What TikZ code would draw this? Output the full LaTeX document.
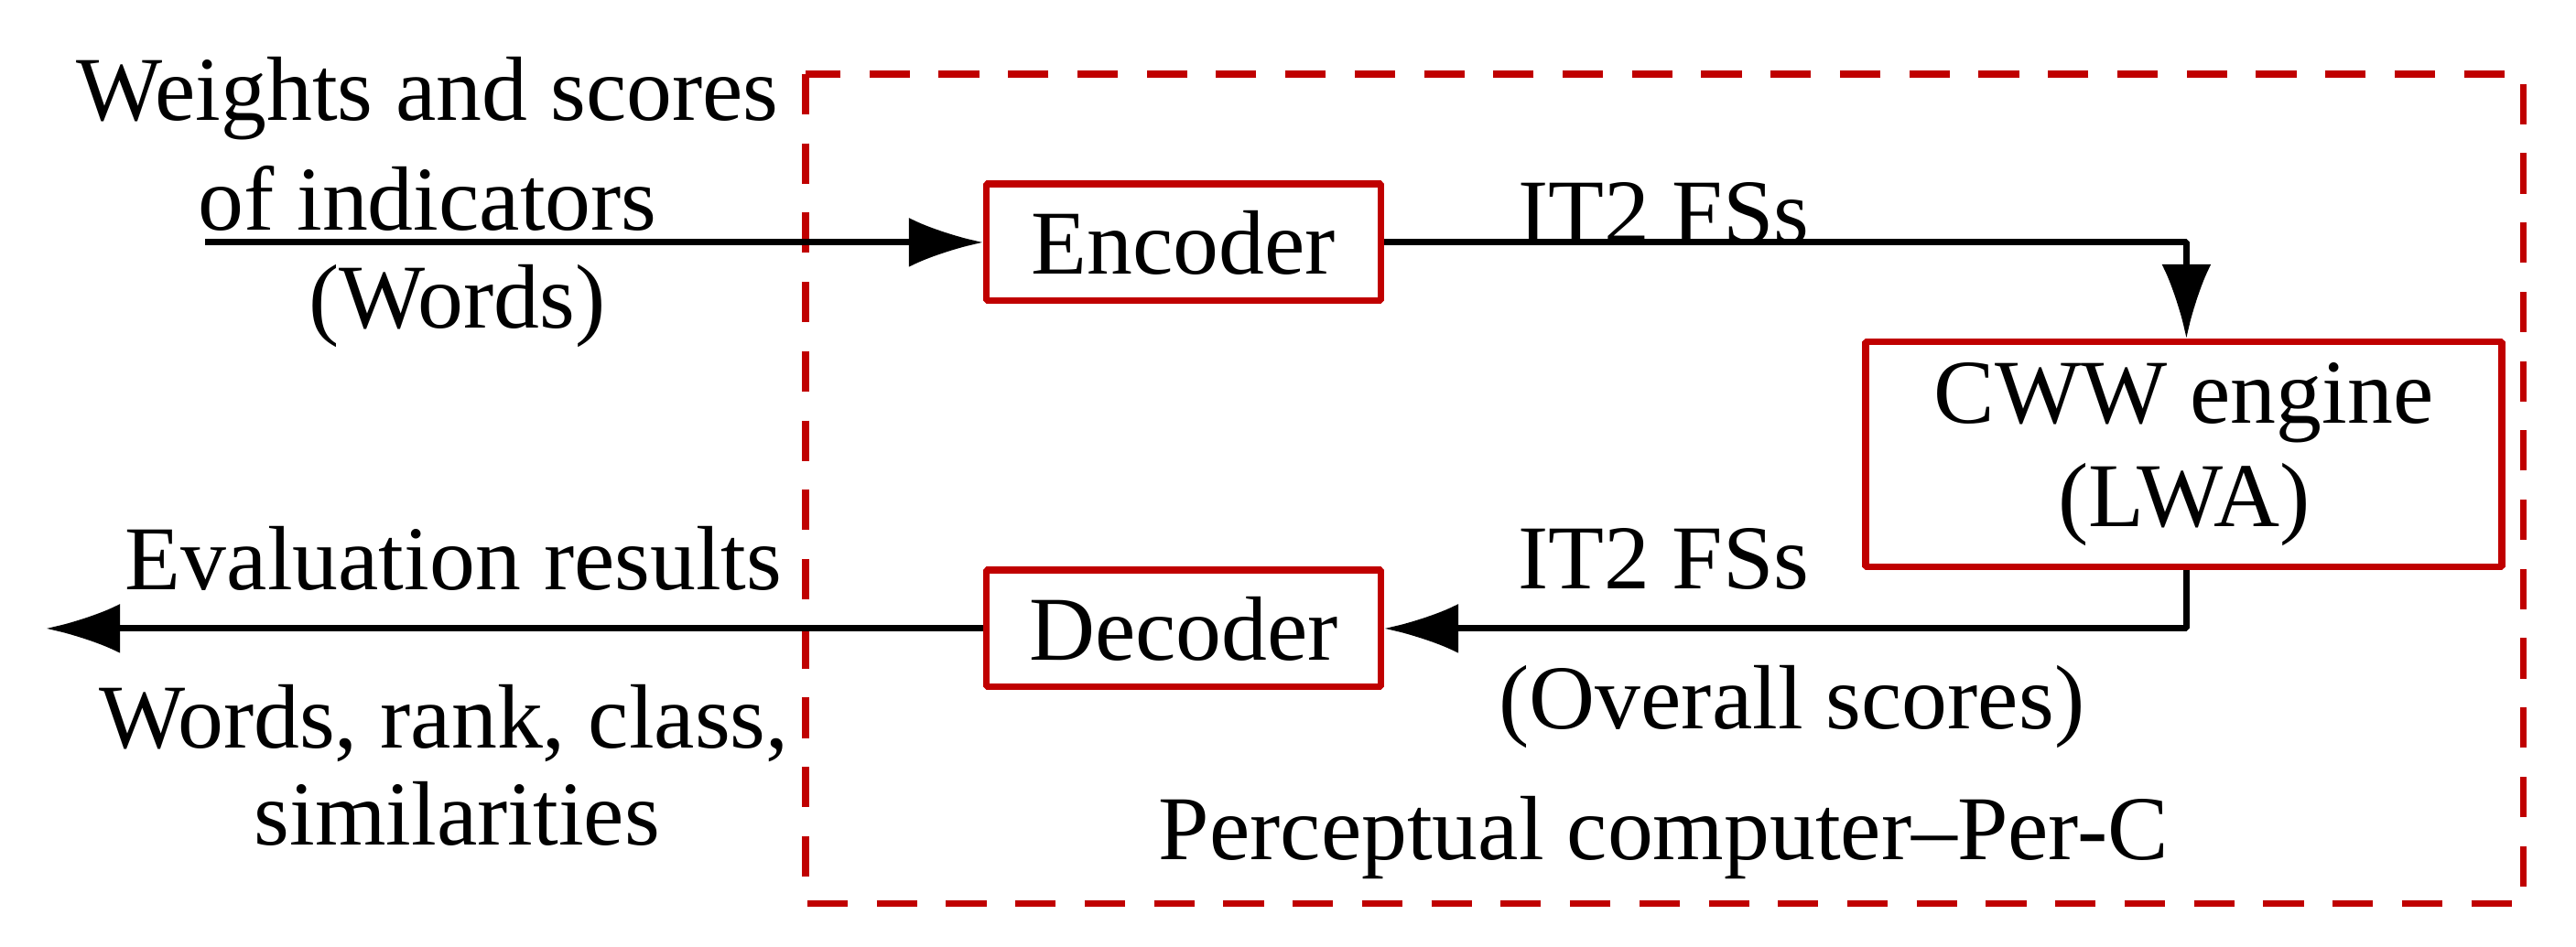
\documentclass[tikz,border=0pt]{standalone}
\usepackage{fontspec}
\setmainfont{Liberation Serif}
\usetikzlibrary{arrows.meta}
\definecolor{boxred}{RGB}{192,0,0}
\tikzset{
  blk/.style={draw=boxred,line width=1.2pt,rectangle,inner sep=0pt},
  lbl/.style={font=\fontsize{15.8}{18}\selectfont,inner sep=0pt},
  flow/.style={line width=1.1pt,-{Latex[length=4.5mm,width=3mm]}}
}
\begin{document}
\begin{tikzpicture}[line join=bevel]
\useasboundingbox (0,0) rectangle (15.67,5.76);
%%
\draw [boxred,line width=1.2pt,dash pattern=on 7pt off 5pt] (4.90,5.31) rectangle (15.35,0.26);
\node (enc) at (7.20,4.285) [blk,minimum width=2.4cm,minimum height=0.71cm] {\fontsize{15.8}{18}\selectfont Encoder};
\node (cww) at (13.285,2.995) [blk,minimum width=3.87cm,minimum height=1.37cm,align=center,font=\fontsize{15.8}{18}\selectfont] {CWW engine\\(LWA)};
\node (dec) at (7.20,1.935) [blk,minimum width=2.4cm,minimum height=0.71cm] {\fontsize{15.8}{18}\selectfont Decoder};
\coordinate (in) at (1.25,4.285);
\coordinate (out) at (0.28,1.935);
\coordinate (c1) at (13.30,4.285);
\coordinate (c2) at (13.30,1.935);
%
\node (w1) at (2.60,5.16) [lbl] {Weights and scores};
\node (w2) at (2.60,4.55) [lbl] {of indicators};
\node (w3) at (2.78,3.90) [lbl] {(Words)};
\node (it1) at (10.12,4.46) [lbl] {IT2 FSs};
\node (it2) at (10.12,2.36) [lbl] {IT2 FSs};
\node (ov) at (10.90,1.46) [lbl] {(Overall scores)};
\node (pc) at (10.12,0.66) [lbl] {Perceptual computer--Per-C};
\node (ev) at (2.76,2.36) [lbl] {Evaluation results};
\node (r1) at (2.70,1.36) [lbl] {Words, rank, class,};
\node (r2) at (2.78,0.81) [lbl] {similarities};
%
\draw [flow] (in) -- (enc);
\draw [flow] (enc) -- (c1) -- (cww.north -| c1);
\draw [flow] (cww.south -| c2) -- (c2) -- (dec);
\draw [flow] (dec) -- (out);
%
\end{tikzpicture}
\end{document}
